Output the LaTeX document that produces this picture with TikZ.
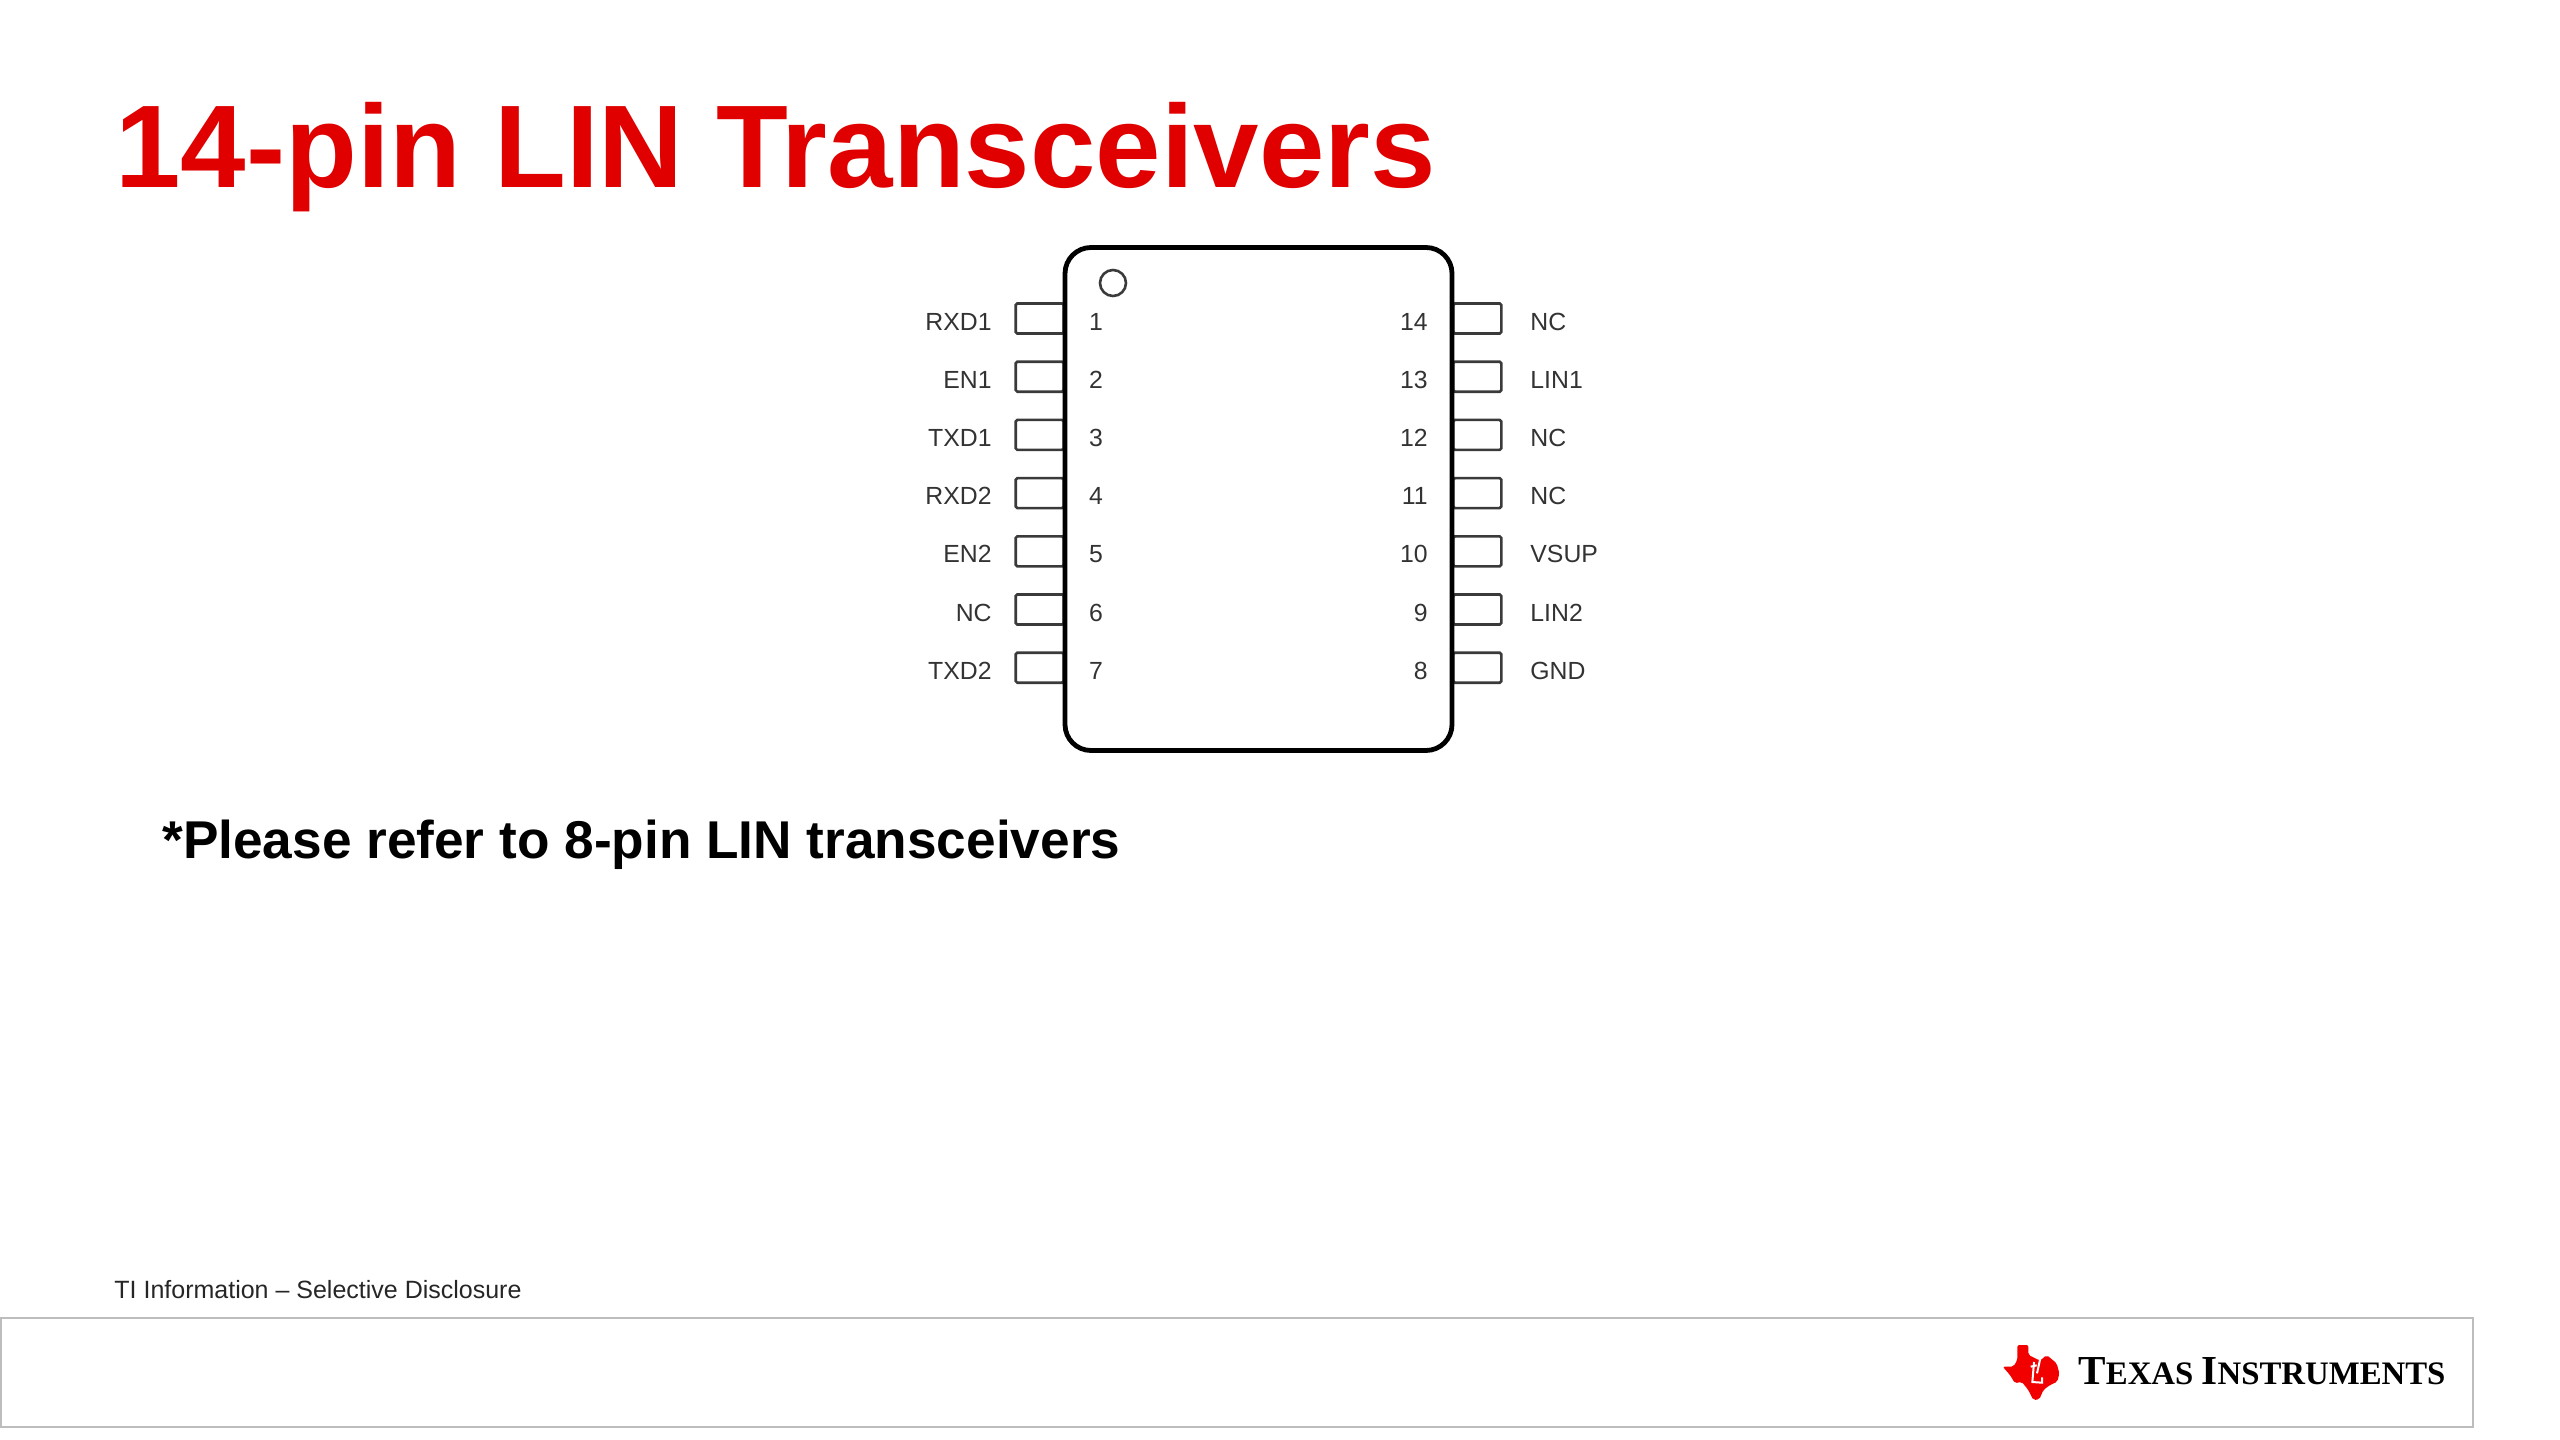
\documentclass[tikz,border=0pt]{standalone}
\usepackage{fontspec}
\setmainfont{Liberation Sans}
\newfontfamily\logofont{Liberation Serif}
\definecolor{tired}{HTML}{E00000}
\definecolor{pinline}{HTML}{3A3A3A}
\definecolor{pinlabel}{HTML}{333333}
\definecolor{framegray}{HTML}{BDBDBD}
\tikzset{
    chipbody/.style={draw=black, line width=2.4pt, rounded corners=13pt, minimum width=193.5pt, minimum height=251.5pt, inner sep=0pt},
    pinbox/.style={draw=pinline, line width=1.3pt, minimum width=24pt, minimum height=15pt, inner sep=0pt, rounded corners=0.8pt},
    pintext/.style={font=\fontsize{12.4}{14}\selectfont, text=pinlabel, inner sep=0pt},
}
\begin{document}
\begin{tikzpicture}[x=0.5pt, y=-0.5pt]
    \useasboundingbox (0,0) rectangle (2560,1440);

    % Title and note
    \node[anchor=base west, inner sep=0pt, text=tired, font=\fontsize{58.8}{60}\selectfont\bfseries] (title) at (115,187) {14-pin LIN Transceivers};
    \node[anchor=base west, inner sep=0pt, font=\fontsize{26.6}{30}\selectfont\bfseries] (note) at (162,858) {*Please refer to 8-pin LIN transceivers};

    % Pins, left and right
    \foreach \n/\lab in {1/RXD1, 2/EN1, 3/TXD1, 4/RXD2, 5/EN2, 6/NC, 7/TXD2} {
        \pgfmathsetmacro{\ypin}{318.5+(\n-1)*58.2}
        \node[pinbox, anchor=east] (pinl\n) at (1065,\ypin) {};
        \node[pintext, anchor=east] (labl\n) at (992,\ypin+3) {\lab};
        \node[pintext] (numl\n) at (1096,\ypin+3) {\n};
    }
    \foreach \n/\lab in {14/NC, 13/LIN1, 12/NC, 11/NC, 10/VSUP, 9/LIN2, 8/GND} {
        \pgfmathsetmacro{\ypin}{318.5+(14-\n)*58.2}
        \node[pinbox, anchor=west] (pinr\n) at (1452,\ypin) {};
        \node[pintext, anchor=west] (labr\n) at (1530,\ypin+3) {\lab};
        \node[pintext, anchor=east] (numr\n) at (1428,\ypin+3) {\n};
    }

    % Package outline and pin 1 mark
    \node[chipbody] (chip) at (1258.5,499) {};
    \node[draw=pinline, circle, line width=1.3pt, minimum size=13pt, inner sep=0pt] (dot) at (1113,283) {};

    % Footer
    \node[anchor=base west, inner sep=0pt, text=black!85, font=\fontsize{12.5}{15}\selectfont] (info) at (114,1298) {TI Information – Selective Disclosure};
    \node[draw=framegray, line width=1.1pt, anchor=north west, minimum width=1236pt, minimum height=54.5pt, inner sep=0pt] (footer) at (0,1317) {};

    % Logo
    \begin{scope}[shift={(2000,1340)}, x=0.1667pt, y=-0.1667pt]
        \fill[red!95!black, rounded corners=1pt] (52,15) -- (85,15) -- (85,45) -- (100,52) -- (120,62) -- (140,45) -- (170,70) -- (178,100) -- (172,125) -- (150,135) -- (130,150) -- (118,178) -- (100,180) -- (85,150) -- (65,125) -- (45,130) -- (30,105) -- (8,80) -- (40,80) -- (52,60) -- cycle;
        \draw[white, line width=1pt] (123,45) -- (111,100);
        \fill[white] (124,31) circle (1.4pt);
        \draw[white, line width=1pt] (92,80) -- (110,76) (102,66) -- (97,126) -- (126,128) -- (126,112);
    \end{scope}
    \node[anchor=base west, inner sep=0pt, font=\logofont\bfseries] (logotext) at (2078,1384) {\fontsize{20.6}{24}\selectfont T\fontsize{16.4}{24}\selectfont EXAS \fontsize{20.6}{24}\selectfont I\fontsize{16.4}{24}\selectfont NSTRUMENTS};
\end{tikzpicture}
\end{document}
